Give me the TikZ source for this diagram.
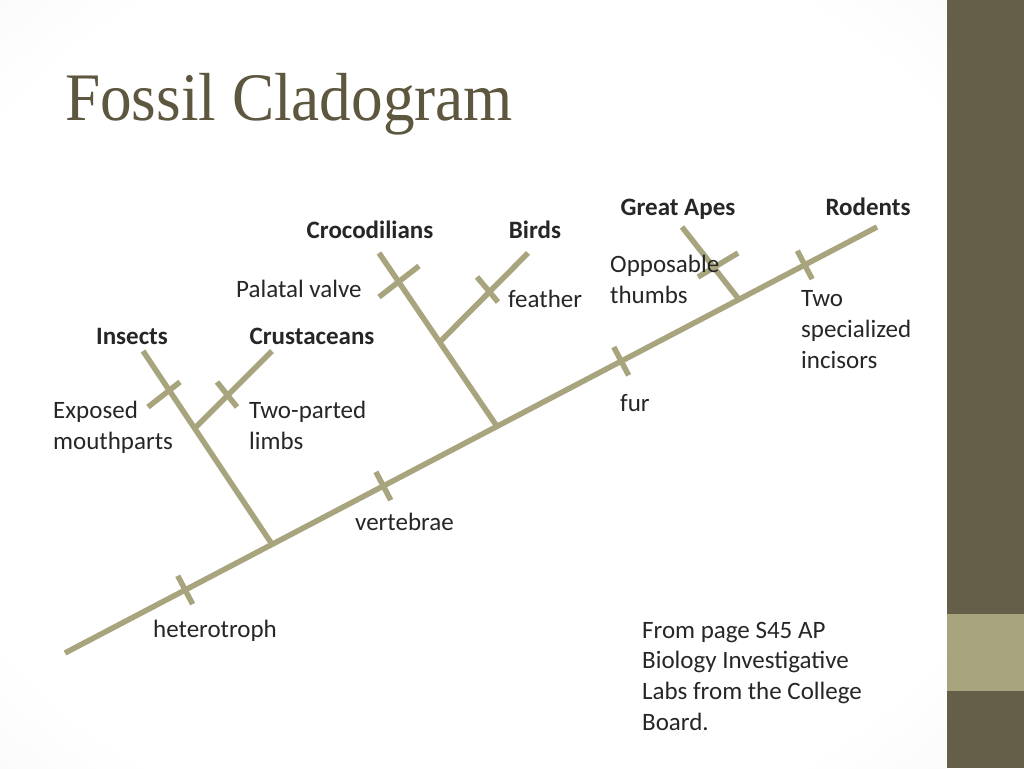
\documentclass[tikz,border=0pt]{standalone}
\usepackage{fontspec}
\setmainfont{Carlito}
\newfontfamily\titlefont{Liberation Serif}
\usetikzlibrary{calc,positioning}

\definecolor{cladecolor}{HTML}{A8A47E}
\definecolor{bardark}{HTML}{655E48}
\definecolor{titlebrown}{HTML}{5E573F}
\definecolor{labeltext}{HTML}{262626}
\pgfdeclareradialshading{slideglow}{\pgfpoint{0bp}{0bp}}{color(0bp)=(white); color(30bp)=(white); color(50bp)=(black!6); color(72bp)=(black!13)}

\begin{document}
\begin{tikzpicture}[
        x=1pt, y=-1pt,
        branch/.style={draw=cladecolor, line width=5.5pt},
        tick/.style={draw=cladecolor, line width=5.5pt},
        taxon/.style={font=\fontsize{25}{30.6}\selectfont\bfseries, text=labeltext, inner sep=0pt, anchor=base},
        trait/.style={font=\fontsize{25}{30.6}\selectfont, text=labeltext, inner sep=0pt, anchor=base west, align=left}
    ]
        % Slide
        \useasboundingbox (0,0) rectangle (1024,768);
        \shade[shading=slideglow] (0,0) rectangle (947,768);
        \fill[bardark] (947,0) rectangle (1024,768);
        \fill[cladecolor] (947,614) rectangle (1024,691);
        \node (title) [anchor=base west, inner sep=0pt, text=titlebrown, font=\titlefont\fontsize{68}{72}\selectfont] at (65,120) {\scalebox{0.93}[1]{Fossil Cladogram}};

        % Points
        \coordinate (root) at (65,653);
        \coordinate (rodtip) at (877,227);
        \coordinate (j1) at ($(root)!0.255!(rodtip)$);
        \coordinate (j2) at ($(root)!0.532!(rodtip)$);
        \coordinate (j3) at ($(root)!0.830!(rodtip)$);
        \coordinate (instip) at (143,351);
        \coordinate (crutip) at (272,351);
        \coordinate (croctip) at (379,253);
        \coordinate (birdtip) at (528,253);
        \coordinate (apetip) at (682,227);
        \coordinate (k1) at ($(j1)!0.6!(instip)$);
        \coordinate (k2) at ($(j2)!0.486!(croctip)$);
        \coordinate (hpt) at ($(root)!0.148!(rodtip)$);
        \coordinate (vpt) at ($(root)!0.392!(rodtip)$);
        \coordinate (fpt) at ($(root)!0.685!(rodtip)$);
        \coordinate (ipt) at ($(root)!0.911!(rodtip)$);

        % Branches
        \draw[branch] (root) -- (rodtip);
        \draw[branch] (j1) -- (instip);
        \draw[branch] (k1) -- (crutip);
        \draw[branch] (j2) -- (croctip);
        \draw[branch] (k2) -- (birdtip);
        \draw[branch] (j3) -- (apetip);

        % Ticks
        \draw[tick] ($(hpt)!16pt!90:(rodtip)$) -- ($(hpt)!16pt!-90:(rodtip)$);
        \draw[tick] ($(vpt)!16pt!90:(rodtip)$) -- ($(vpt)!16pt!-90:(rodtip)$);
        \draw[tick] ($(fpt)!16pt!90:(rodtip)$) -- ($(fpt)!16pt!-90:(rodtip)$);
        \draw[tick] ($(ipt)!16pt!90:(rodtip)$) -- ($(ipt)!16pt!-90:(rodtip)$);
        \draw[tick] (148,407) -- (180,382);
        \draw[tick] (217,382) -- (237,407);
        \draw[tick] (379,297) -- (419,266);
        \draw[tick] (477,277) -- (498,302);
        \draw[tick] (698,277) -- (738,253);

        % Taxa
        \node (insects) [taxon] at (132,344) {Insects};
        \node (crustaceans) [taxon] at (312,344) {Crustaceans};
        \node (crocodilians) [taxon] at (370,238) {Crocodilians};
        \node (birds) [taxon] at (535,238) {Birds};
        \node (apes) [taxon] at (678,215) {Great Apes};
        \node (rodents) [taxon] at (868,215) {Rodents};

        % Traits (base = last line)
        \node (mouth) [trait] at (53,449) {Exposed\\mouthparts};
        \node (limbs) [trait] at (249,449) {Two-parted\\limbs};
        \node (valve) [trait] at (236,297) {Palatal valve};
        \node (feather) [trait] at (508,307) {feather};
        \node (thumbs) [trait] at (610,303) {Opposable\\thumbs};
        \node (incisors) [trait] at (801,368) {Two\\specialized\\incisors};
        \node (fur) [trait] at (620,411) {fur};
        \node (vertebrae) [trait] at (355,530) {vertebrae};
        \node (hetero) [trait] at (153,637) {heterotroph};
        \node (source) [trait] at (642,730) {From page S45 AP\\Biology Investigative\\Labs from the College\\Board.};

    \end{tikzpicture}
\end{document}
